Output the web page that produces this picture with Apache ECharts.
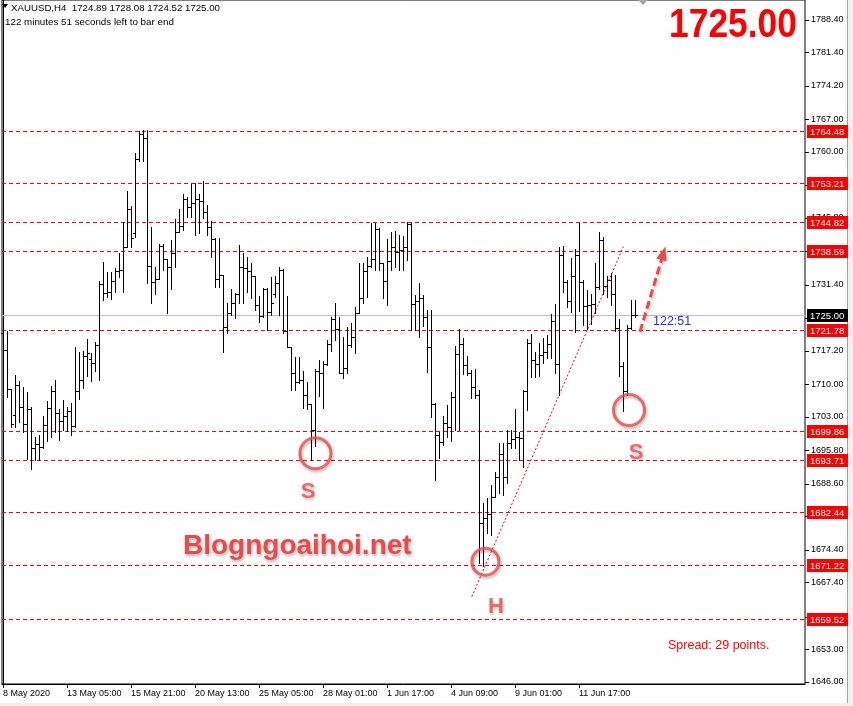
<!DOCTYPE html>
<html><head><meta charset="utf-8">
<script src="https://cdn.jsdelivr.net/npm/echarts@6/dist/echarts.min.js"></script>
<style>html,body{margin:0;padding:0;background:#fff}#c{width:853px;height:706px}</style>
</head><body><div id="c"></div>
<script>
// ---- data (XAUUSD H4) ----
const timeLabels = ["8 May 2020","13 May 05:00","15 May 21:00","20 May 13:00","25 May 05:00","28 May 01:00","1 Jun 17:00","4 Jun 09:00","9 Jun 01:00","11 Jun 17:00"];
const timeLabelIdx = [0,16,32,48,64,80,96,112,128,144];
const opens = [1720.96,1717.38,1708.92,1703.32,1709.78,1705.04,1701.46,1704.61,1696.23,1697.16,
1696.44,1701.17,1704.90,1708.63,1703.75,1702.03,1703.18,1704.18,1701.03,1708.49,
1710.92,1716.09,1715.50,1714.51,1718.38,1731.57,1729.57,1729.85,1732.29,1734.30,
1734.58,1739.46,1747.78,1742.50,1758.39,1763.84,1762.98,1735.45,1732.00,1732.58,
1739.75,1736.88,1735.30,1738.31,1742.76,1744.05,1749.79,1748.07,1748.93,1749.79,
1749.42,1747.13,1743.76,1741.18,1732.57,1733.50,1722.39,1725.26,1727.41,1729.35,
1735.15,1734.94,1734.44,1733.29,1727.05,1724.76,1730.56,1725.62,1729.50,1731.71,
1734.58,1721.53,1718.09,1712.50,1710.56,1711.00,1707.69,1705.76,1700.16,1712.93,
1712.50,1714.36,1718.66,1723.97,1721.82,1712.50,1713.50,1718.45,1720.24,1725.40,
1728.48,1734.44,1735.44,1736.87,1743.33,1736.01,1732.28,1736.59,1739.45,1738.52,
1738.88,1739.45,1744.47,1727.27,1727.90,1728.49,1724.55,1718.09,1705.76,1699.09,
1697.50,1701.74,1700.88,1707.34,1716.50,1718.67,1714.15,1712.36,1709.49,1707.70,
1680.09,1681.17,1682.00,1685.83,1690.13,1695.00,1690.13,1697.30,1698.16,1698.59,
1698.38,1708.63,1718.81,1715.22,1714.36,1716.30,1717.00,1718.59,1723.61,1714.29,
1737.81,1732.07,1727.91,1733.29,1737.81,1732.07,1726.91,1727.00,1727.20,1730.90,
1741.04,1731.10,1732.43,1729.45,1722.03,1713.90,1708.50,1722.03,1724.89];
const highs = [1722.54,1721.54,1709.06,1712.00,1710.78,1709.49,1708.34,1705.19,1698.74,1699.17,
1703.18,1706.41,1709.63,1710.92,1704.76,1706.63,1705.04,1706.05,1717.95,1716.95,
1717.23,1719.67,1716.66,1719.10,1732.29,1736.31,1734.15,1734.15,1735.02,1738.31,
1744.91,1751.65,1748.35,1759.82,1764.56,1764.70,1764.70,1743.91,1735.30,1740.18,
1740.18,1736.88,1741.04,1745.63,1747.78,1750.93,1750.36,1753.08,1753.37,1750.93,
1753.80,1748.56,1745.12,1741.39,1741.39,1733.50,1727.41,1730.49,1729.56,1739.96,
1738.31,1737.30,1736.01,1733.29,1728.99,1730.64,1730.64,1733.00,1733.29,1735.15,
1734.72,1728.99,1718.10,1715.94,1715.94,1712.93,1710.49,1705.76,1713.21,1715.22,
1714.93,1719.52,1724.40,1727.41,1724.54,1720.24,1722.39,1723.11,1726.69,1736.16,
1736.16,1737.45,1744.62,1744.62,1743.54,1736.01,1741.18,1742.82,1743.04,1742.11,
1741.90,1744.98,1744.76,1729.21,1731.72,1729.21,1725.98,1725.98,1705.90,1699.81,
1703.18,1705.54,1708.41,1718.23,1721.82,1719.89,1716.08,1713.07,1713.22,1708.77,
1684.39,1685.47,1688.34,1691.20,1697.44,1697.30,1700.17,1700.17,1704.75,1699.81,
1708.77,1719.67,1720.82,1717.02,1718.95,1720.02,1720.60,1725.04,1727.19,1739.60,
1739.81,1732.43,1737.20,1739.00,1744.62,1732.43,1730.20,1729.45,1736.02,1742.70,
1741.75,1733.30,1734.00,1733.50,1724.10,1714.75,1722.80,1728.20,1728.08];
const lows = [1705.90,1707.34,1700.89,1700.89,1701.96,1699.81,1693.93,1691.85,1693.72,1693.72,
1696.23,1697.88,1698.74,1699.81,1698.02,1700.17,1700.03,1699.09,1700.89,1706.91,
1709.20,1711.78,1710.78,1712.93,1710.92,1728.13,1728.85,1728.42,1729.85,1733.15,
1729.85,1739.46,1739.46,1741.76,1757.96,1758.10,1731.72,1727.42,1729.42,1732.58,
1734.58,1725.41,1730.57,1735.30,1742.76,1743.19,1746.06,1746.06,1742.19,1742.47,
1745.69,1742.11,1737.45,1730.99,1730.99,1717.01,1721.10,1724.90,1724.18,1727.41,
1727.41,1729.92,1728.50,1725.98,1723.47,1724.54,1721.67,1724.90,1728.84,1724.90,
1721.10,1717.94,1708.77,1708.77,1710.34,1704.83,1704.61,1693.71,1696.72,1707.48,
1704.83,1714.20,1717.23,1719.52,1712.35,1711.28,1712.35,1718.09,1716.65,1725.26,
1727.41,1728.84,1735.30,1734.58,1734.58,1728.48,1726.98,1734.58,1735.30,1734.58,
1734.58,1736.73,1721.67,1721.68,1720.24,1722.54,1712.72,1702.89,1689.41,1694.07,
1696.94,1698.59,1697.87,1700.17,1700.17,1712.21,1712.00,1706.98,1706.98,1671.49,
1670.91,1677.94,1677.58,1685.83,1686.54,1686.19,1688.70,1696.22,1696.22,1693.71,
1692.28,1704.47,1711.64,1711.64,1711.78,1714.50,1715.58,1715.72,1712.35,1707.69,
1729.78,1726.69,1725.62,1721.32,1725.80,1722.75,1721.95,1722.90,1725.30,1730.50,
1729.50,1728.85,1727.05,1721.40,1711.80,1704.20,1707.80,1721.85,1724.52];
const closes = [1717.38,1708.92,1701.46,1709.78,1705.04,1701.46,1704.61,1696.23,1697.16,1696.44,
1701.17,1704.90,1708.63,1703.75,1702.03,1703.18,1704.18,1701.03,1708.49,1710.92,
1716.09,1716.66,1714.51,1718.38,1731.57,1729.57,1729.85,1732.29,1734.30,1734.58,
1739.46,1747.78,1741.47,1758.39,1763.84,1762.98,1735.45,1732.00,1732.58,1739.75,
1736.88,1735.30,1738.31,1742.76,1744.05,1749.79,1748.07,1748.93,1749.79,1749.50,
1747.13,1743.76,1741.18,1732.57,1733.50,1722.39,1725.26,1727.41,1729.35,1735.15,
1734.94,1734.44,1733.29,1727.05,1724.76,1730.56,1725.62,1727.55,1731.71,1734.58,
1721.53,1718.09,1712.50,1710.56,1711.00,1707.69,1705.76,1700.16,1712.93,1712.50,
1714.36,1718.66,1723.97,1721.82,1712.50,1713.50,1718.45,1720.24,1725.40,1728.48,
1734.44,1735.44,1736.87,1743.33,1736.01,1732.28,1736.59,1739.45,1738.52,1738.88,
1739.45,1744.47,1727.27,1727.90,1728.49,1724.55,1718.09,1705.76,1699.09,1697.50,
1701.74,1700.88,1707.34,1716.50,1718.67,1714.15,1712.36,1709.49,1707.70,1680.09,
1681.17,1682.00,1685.83,1690.13,1695.00,1690.13,1697.30,1698.16,1698.59,1698.38,
1708.63,1718.81,1715.22,1714.36,1716.30,1717.00,1718.59,1723.61,1714.29,1737.81,
1732.07,1727.91,1733.29,1737.81,1732.07,1726.91,1727.00,1727.20,1730.90,1741.04,
1731.10,1732.43,1729.45,1722.03,1713.90,1708.50,1722.03,1724.80,1725.00];
const levels = [1764.48,1753.21,1744.82,1738.59,1721.78,1699.86,1693.71,1682.44,1671.22,1659.52];
const bidPrice = 1725.00;
const yTickValues = [1788.40,1781.40,1774.20,1767.00,1760.00,1752.80,1745.80,1738.60,1731.40,1724.20,1717.20,1710.00,1703.00,1695.80,1688.60,1681.60,1674.40,1667.40,1660.00,1653.00,1646.00];
// drawings anchored to [bar index, price]
const trendLine = [[117.2,1664.31],[155.1,1739.60]];
const arrowLine = [[159.25,1721.31],[165.1,1738.17]];
const circlePts = [[78.1,1695.16],[120.6,1671.84],[156.5,1704.47]];
const circleSizes = [31,27,31];
const letterPts = [[76.25,1686.83,'S'],[123.25,1662.09,'H'],[158.25,1695.22,'S']];

const rows = opens.map((o,i)=>[i,o,highs[i],lows[i],closes[i]]);
const FONT = 'Liberation Sans, Arial, sans-serif';
const ANN = '#f04848';

const chart = echarts.init(document.getElementById('c'), null, {renderer:'canvas'});

function renderBar(params, api){
  const i = api.value(0);
  const pO = api.coord([i, api.value(1)]);
  const pH = api.coord([i, api.value(2)]);
  const pL = api.coord([i, api.value(3)]);
  const pC = api.coord([i, api.value(4)]);
  const X = Math.round(pH[0]);
  const yH = Math.round(pH[1]), yL = Math.round(pL[1]);
  const st = {fill:'#000'};
  return {type:'group', children:[
    {type:'rect', shape:{x:X, y:yH, width:1, height:Math.max(1,yL-yH+1)}, style:st},
    {type:'rect', shape:{x:X-2, y:Math.round(pO[1]), width:2, height:1}, style:st},
    {type:'rect', shape:{x:X+1, y:Math.round(pC[1]), width:2, height:1}, style:st}
  ]};
}
function levelRenderer(lineColor, dash, boxColor){
  return function(params, api){
    const v = api.value(1);
    const p = api.coord([0, v]);
    const cs = params.coordSys;
    const y = Math.round(p[1]);
    const right = cs.x + cs.width;
    return {type:'group', children:[
      {type:'line', shape:{x1:cs.x, y1:y+0.5, x2:right+1, y2:y+0.5}, style:{stroke:lineColor, lineWidth:1, lineDash:dash}},
      {type:'rect', shape:{x:right+2, y:y-6, width:41, height:13}, style:{fill:boxColor}},
      {type:'text', x:right+5, y:y+1, style:{text:v.toFixed(2), fill:'#fff', fontSize:9.5, fontFamily:FONT, verticalAlign:'middle', align:'left'}}
    ]};
  };
}
function yTickRenderer(params, api){
  const p = api.coord([0, api.value(1)]);
  const cs = params.coordSys;
  const y = Math.round(p[1]);
  const right = cs.x + cs.width;
  return {type:'rect', shape:{x:right, y:y, width:4, height:1}, style:{fill:'#000'}};
}
function xTickRenderer(params, api){
  const p = api.coord([api.value(0), 1700]);
  const cs = params.coordSys;
  const x = Math.round(p[0]);
  const bottom = cs.y + cs.height;
  return {type:'rect', shape:{x:x, y:bottom, width:1, height:4}, style:{fill:'#000'}};
}

const option = {
  animation:false,
  backgroundColor:'#ffffff',
  grid:{left:2, right:48, top:0, bottom:22, show:true, borderColor:'#000', borderWidth:1, backgroundColor:'transparent'},
  xAxis:{type:'value', min:-0.25, max:200.5,
    axisLine:{show:true, lineStyle:{color:'#000', width:1}},
    axisTick:{show:false},
    axisLabel:{show:true, customValues:timeLabelIdx, align:'left', margin:5, color:'#000', fontSize:9, fontFamily:FONT,
      formatter:v=>{const k=timeLabelIdx.indexOf(Math.round(v)); return k>=0?timeLabels[k]:'';}},
    splitLine:{show:false}},
  yAxis:{type:'value', position:'right', min:1645.53, max:1792.66, scale:true,
    axisLine:{show:true, lineStyle:{color:'#000', width:1}},
    axisTick:{show:false},
    axisLabel:{show:true, customValues:yTickValues, margin:6, color:'#000', fontSize:9, fontFamily:FONT,
      formatter:v=>v.toFixed(2)},
    splitLine:{show:false}},
  series:[
    {type:'custom', name:'ticksY', renderItem:yTickRenderer, data:yTickValues.map(v=>[0,v]), encode:{x:0,y:1}, clip:false, silent:true, z:1},
    {type:'custom', name:'ticksX', renderItem:xTickRenderer, data:timeLabelIdx.map(v=>[v,1700]), encode:{x:0,y:1}, clip:false, silent:true, z:1},
    {type:'custom', name:'bid', renderItem:levelRenderer('#c0c0c0', null, '#000'), data:[[0,bidPrice]], encode:{x:0,y:1}, clip:false, silent:true, z:2},
    {type:'custom', name:'levels', renderItem:levelRenderer('#ff0000', [4,3], '#ff0000'), data:levels.map(v=>[0,v]), encode:{x:0,y:1}, clip:false, silent:true, z:2},
    {type:'custom', name:'XAUUSD', renderItem:renderBar, data:rows, encode:{x:0, y:[1,2,3,4]}, z:3, silent:true,
      markLine:{silent:true, symbol:['none','none'], animation:false, label:{show:false},
        data:[
          [{coord:trendLine[0], symbol:'none', lineStyle:{color:'#ff0000', type:[2,2], width:1}}, {coord:trendLine[1], symbol:'none'}],
          [{coord:arrowLine[0], symbol:'none', lineStyle:{color:ANN, type:[8,4], width:3, shadowColor:'rgba(0,0,0,0.25)', shadowBlur:3, shadowOffsetX:1, shadowOffsetY:2}},
           {coord:arrowLine[1], symbol:'triangle', symbolSize:[11,14]}]
        ]}},
    {type:'scatter', data:circlePts.map((p,k)=>({value:p, symbolSize:circleSizes[k]})), symbol:'circle', z:6, silent:true,
      itemStyle:{color:'rgba(0,0,0,0)', borderColor:ANN, borderWidth:3, shadowColor:'rgba(0,0,0,0.35)', shadowBlur:3, shadowOffsetX:1, shadowOffsetY:2}},
    {type:'scatter', data:letterPts.map(p=>({value:[p[0],p[1]], name:p[2]})), symbolSize:1, z:6, silent:true,
      itemStyle:{color:'rgba(0,0,0,0)'},
      label:{show:true, position:'inside', formatter:p=>p.name, color:ANN, fontSize:22, fontWeight:'bold', fontFamily:FONT,
        textShadowColor:'rgba(0,0,0,0.3)', textShadowBlur:3, textShadowOffsetX:1, textShadowOffsetY:2}}
  ],
  graphic:[
    {type:'polygon', shape:{points:[[2,4],[8,4],[5,8]]}, style:{fill:'#000'}},
    {type:'text', x:11, y:8, style:{text:'XAUUSD,H4  1724.89 1728.08 1724.52 1725.00', fill:'#000', fontSize:9.7, fontFamily:FONT, verticalAlign:'middle', align:'left'}},
    {type:'text', x:5, y:22, style:{text:'122 minutes 51 seconds left to bar end', fill:'#000', fontSize:9.8, fontFamily:FONT, verticalAlign:'middle', align:'left'}},
    {type:'polygon', shape:{points:[[638,0],[648,0],[643,5]]}, style:{fill:'#a8a8a8'}},
    {type:'text', x:797, y:25.5, scaleX:0.885, style:{text:'1725.00', fill:'#ff0000', fontSize:40, fontWeight:'bold', fontFamily:FONT, align:'right', verticalAlign:'middle'}},
    {type:'text', x:183, y:546, style:{text:'Blogngoaihoi.net', fill:ANN, fontSize:28, fontWeight:'bold', fontFamily:FONT, align:'left', verticalAlign:'middle',
      textShadowColor:'rgba(0,0,0,0.3)', textShadowBlur:3, textShadowOffsetX:1, textShadowOffsetY:2}},
    {type:'text', x:653, y:322, style:{text:'122:51', fill:'#2a2aff', fontSize:12.5, fontFamily:FONT, align:'left', verticalAlign:'middle'}},
    {type:'text', x:668, y:646, style:{text:'Spread: 29 points.', fill:'#ff0000', fontSize:12.5, fontFamily:FONT, align:'left', verticalAlign:'middle'}},
    {type:'rect', shape:{x:848, y:0, width:5, height:706}, style:{fill:'#f0f0f0'}},
    {type:'rect', shape:{x:847, y:0, width:1, height:706}, style:{fill:'#a0a0a0'}},
    {type:'rect', shape:{x:0, y:703, width:853, height:3}, style:{fill:'#f0f0f0'}}
  ]
};
chart.setOption(option);
</script></body></html>
